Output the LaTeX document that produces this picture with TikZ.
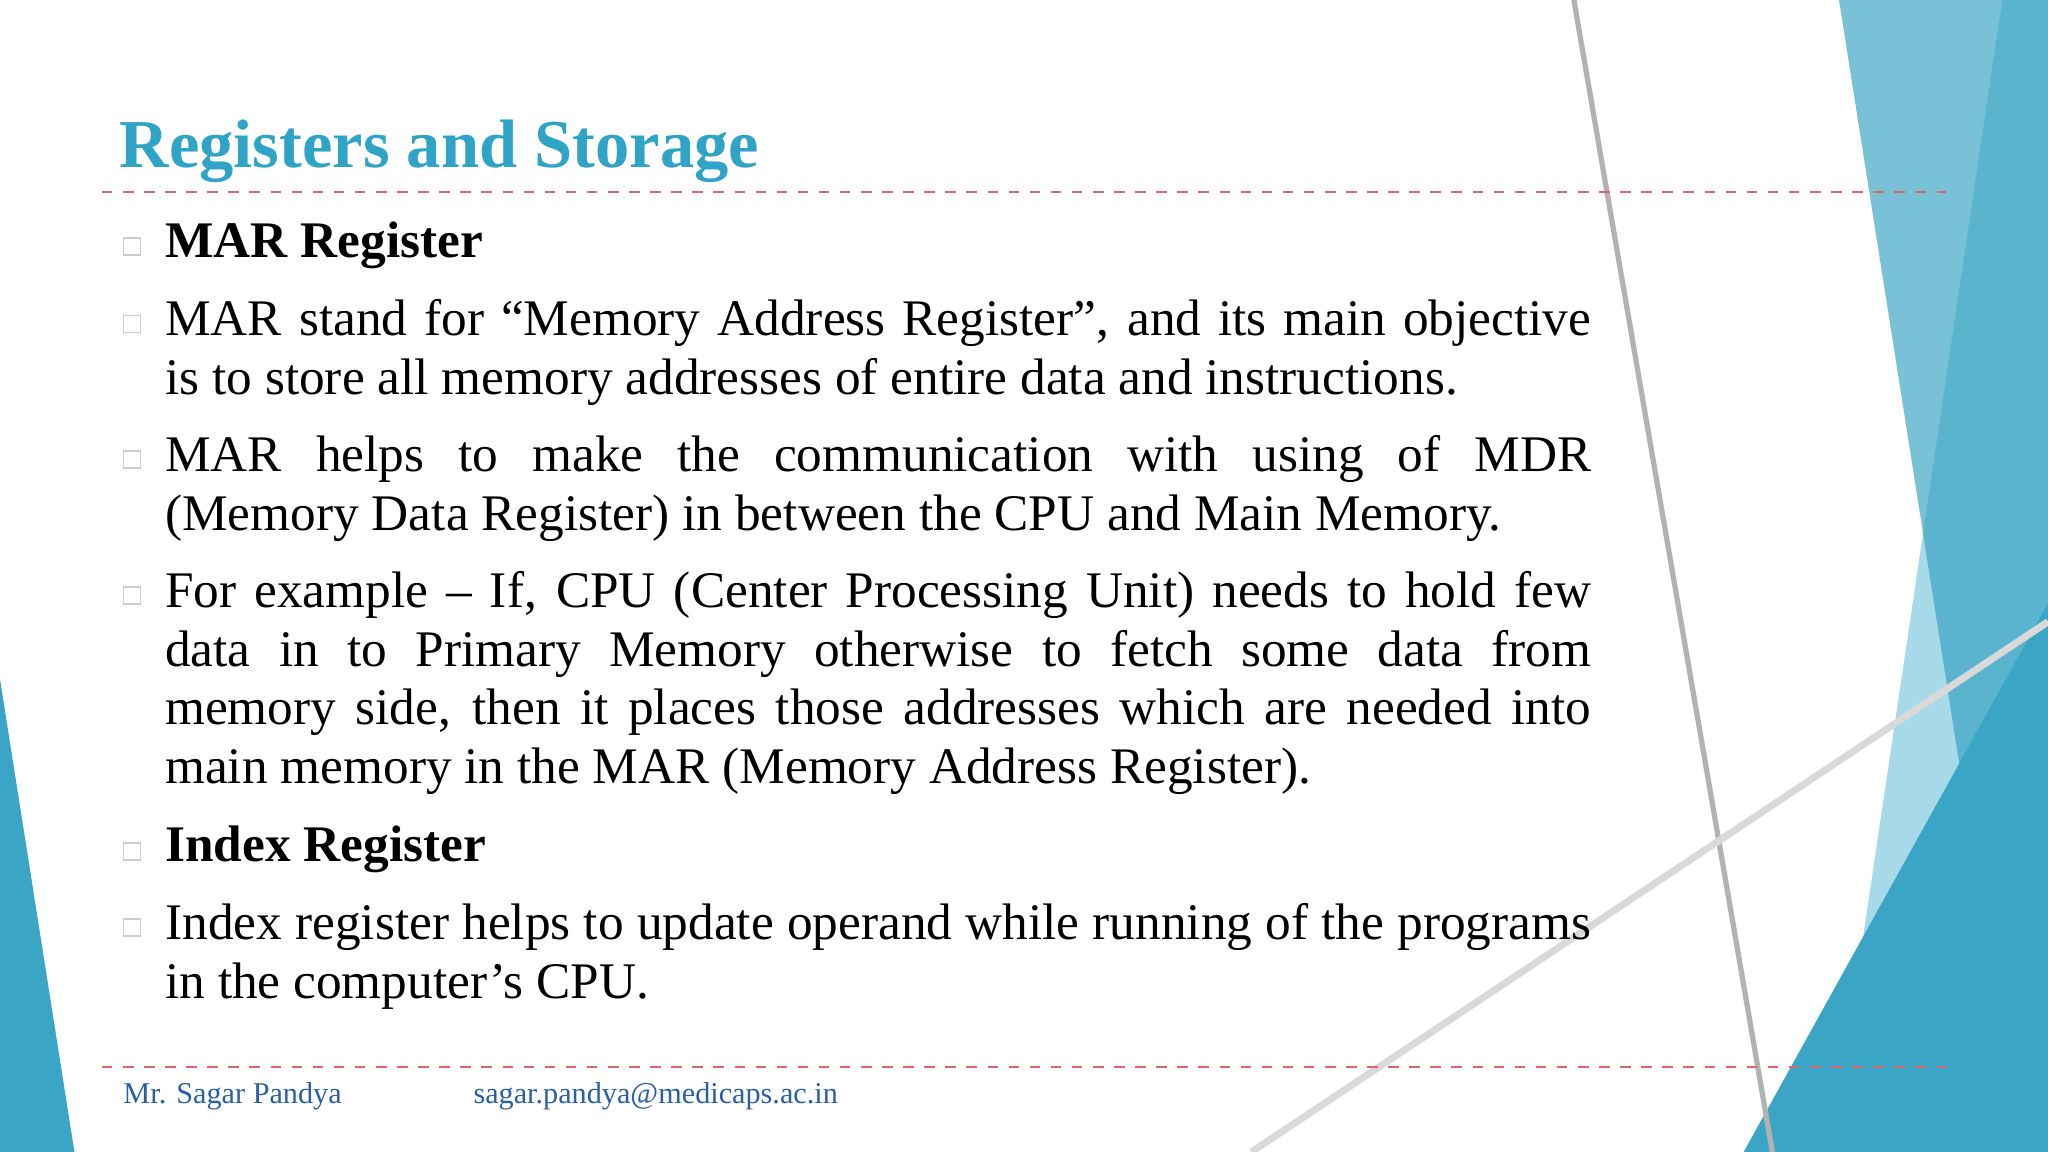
\documentclass[tikz,border=0pt]{standalone}
\usepackage{fontspec}
\setmainfont{Liberation Serif}
\newcommand\nohyph{\hyphenpenalty=10000\relax\exhyphenpenalty=10000\relax}
\definecolor{ttl}{HTML}{2FA4C6}
\definecolor{tealA}{HTML}{78C1D6}
\definecolor{tealAB}{HTML}{5AB4CE}
\definecolor{tealB}{HTML}{A6DAE9}
\definecolor{tealC}{HTML}{3AA5C4}
\definecolor{dashred}{HTML}{D9676B}
\definecolor{foot}{HTML}{2A5FA8}
\begin{document}
\begin{tikzpicture}[x=0.013061cm,y=-0.013061cm,
  bul/.style={draw=gray!40,line width=0.5pt,minimum size=0.17cm,inner sep=0pt},
  para/.style={anchor=north west,inner sep=0pt,text width=14.26cm,align=justify,font=\fontsize{14.6}{16.7}\selectfont},
  head/.style={anchor=west,inner sep=0pt,font=\fontsize{14.6}{16.7}\selectfont\bfseries}]
\useasboundingbox (0,0) rectangle (1568,882);
\fill[white] (0,0) rectangle (1568,882);
% decorations
\fill[tealB] (1533,0) -- (1568,0) -- (1568,882) -- (1402,882) -- cycle;
\fill[tealA] (1408,0) -- (1568,0) -- (1568,882) -- (1547,882) -- cycle;
\begin{scope}
\clip (1408,0) -- (1568,0) -- (1568,882) -- (1547,882) -- cycle;
\fill[tealAB] (1533,0) -- (1568,0) -- (1568,882) -- (1402,882) -- cycle;
\end{scope}
\fill[tealC] (1568,462) -- (1568,882) -- (1335,882) -- cycle;
\fill[tealC] (0,520) -- (57,882) -- (0,882) -- cycle;
\draw[gray!60,line width=1.5pt] (1205,0) -- (1357,882);
\draw[gray!30,line width=2pt] (958,882) -- (1568,476);
% title
\node[anchor=base west,inner sep=0pt,text=ttl,font=\fontsize{19.5}{24}\selectfont\bfseries] (title) at (91,128) {Registers and Storage};
\draw[dashred,dashed,line width=0.6pt] (78,147) -- (1490,147);
\draw[dashred,dashed,line width=0.6pt] (78,817) -- (1490,817);
% bullets
\foreach \n/\yy in {b1/189,b2/248,b3/352,b4/456,b5/652,b6/710}
  \node[bul] (\n) at (101,\yy) {};
\node[head] (h1) at (126,188) {MAR Register};
\node[para] (p1) at (126,229) {\nohyph MAR stand for “Memory Address Register”, and its main objective\linebreak is to store all memory addresses of entire data and instructions.};
\node[para] (p2) at (126,333) {\nohyph MAR helps to make the communication with using of MDR\linebreak (Memory Data Register) in between the CPU and Main Memory.};
\node[para] (p3) at (126,437) {\nohyph For example – If, CPU (Center Processing Unit) needs to hold few\linebreak data in to Primary Memory otherwise to fetch some data from\linebreak memory side, then it places those addresses which are needed into\linebreak main memory in the MAR (Memory Address Register).};
\node[head] (h2) at (126,650) {Index Register};
\node[para] (p4) at (126,691) {\nohyph Index register helps to update operand while running of the programs\linebreak in the computer’s CPU.};
% footer
\node[anchor=base west,inner sep=0pt,text=foot,font=\fontsize{8.6}{10}\selectfont] (f1) at (94,845) {Mr. Sagar Pandya};
\node[anchor=base west,inner sep=0pt,text=foot,font=\fontsize{8.6}{10}\selectfont] (f2) at (362,845) {sagar.pandya@medicaps.ac.in};
\end{tikzpicture}
\end{document}
